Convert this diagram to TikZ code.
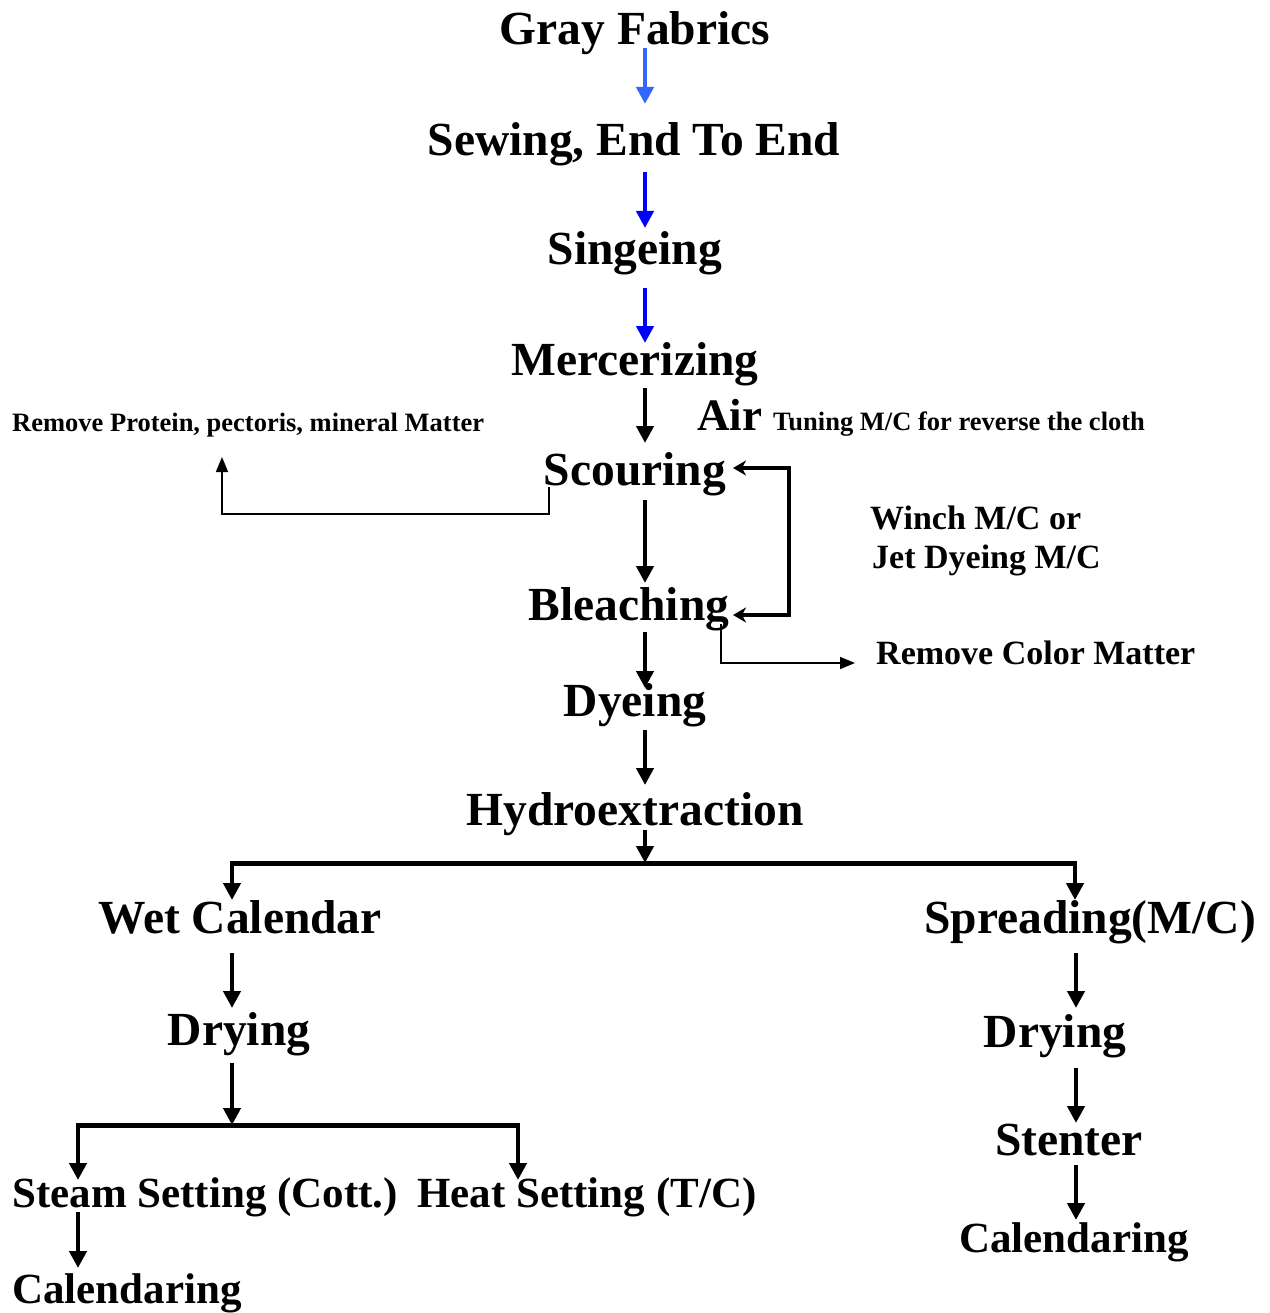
\documentclass[tikz,border=0pt]{standalone}
\usepackage{fontspec}
\setmainfont{Liberation Serif}
\usetikzlibrary{arrows.meta}
\definecolor{lightblue}{RGB}{51,102,255}
\definecolor{pureblue}{RGB}{0,0,255}
\begin{document}
\begin{tikzpicture}[x=1pt,y=-1pt,
  big/.style={font=\fontsize{47.5}{50}\selectfont\bfseries, inner sep=0pt, anchor=base},
  cal/.style={font=\fontsize{43}{46}\selectfont\bfseries, inner sep=0pt, anchor=base},
  mid/.style={font=\fontsize{34}{36}\selectfont\bfseries, inner sep=0pt, anchor=base west},
  small/.style={font=\fontsize{26.5}{28}\selectfont\bfseries, inner sep=0pt, anchor=base west},
  arr/.style={line width=4.5pt, -{Triangle[width=17pt,length=17pt]}},
  barline/.style={line width=5pt, line join=miter},
  loop/.style={line width=4.5pt, line join=miter, {Stealth[width=15pt,length=13pt,inset=4pt]}-{Stealth[width=15pt,length=13pt,inset=4pt]}},
  thinarr/.style={line width=1.6pt, line join=miter, -{Triangle[width=12pt,length=15pt]}}
]
\useasboundingbox (0,0) rectangle (1269,1313);

% main column
\node[big] (gray) at (635,45) {Gray Fabrics};
\node[big] (sew) at (634,156) {Sewing, End To End};
\node[big] (sing) at (635,265) {Singeing};
\node[big] (merc) at (635,375) {Mercerizing};
\node[big] (scour) at (635,485) {Scouring};
\node[big] (bleach) at (629,620) {Bleaching};
\node[big] (dye) at (635,716) {Dyeing};
\node[big] (hydro) at (635,825) {Hydroextraction};

% side notes
\node[font=\fontsize{45}{48}\selectfont\bfseries, inner sep=0pt, anchor=base west] (air) at (697,430) {Air};
\node[small] (tuning) at (773,430) {Tuning M/C for reverse the cloth};
\node[small] (protein) at (12,431) {Remove Protein, pectoris, mineral Matter};
\node[mid] (winch) at (870,529) {Winch M/C or};
\node[mid] (jet) at (872,568) {Jet Dyeing M/C};
\node[mid] (color) at (876,664) {Remove Color Matter};

% branches
\node[big] (wet) at (240,933) {Wet Calendar};
\node[big] (dry1) at (239,1045) {Drying};
\node[big] (spread) at (1090,933) {Spreading(M/C)};
\node[big] (dry2) at (1055,1047) {Drying};
\node[big] (stent) at (1069,1155) {Stenter};
\node[cal] (cal2) at (1074,1252) {Calendaring};
\node[cal, anchor=base west] (steam) at (12,1207) {Steam Setting (Cott.)};
\node[cal, anchor=base west] (heat) at (417,1207) {Heat Setting (T/C)};
\node[cal, anchor=base west] (cal1) at (12,1303) {Calendaring};

% connector points
\coordinate (hsplit) at (645,863);
\coordinate (lsplit) at (232,1125);

% main arrows
\draw[arr, lightblue] (645,48) -- (645,104);
\draw[arr, pureblue] (645,172) -- (645,228);
\draw[arr, pureblue] (645,288) -- (645,343);
\draw[arr] (645,388) -- (645,443);
\draw[arr] (645,500) -- (645,583);
\draw[arr] (645,632) -- (645,688);
\draw[arr] (645,730) -- (645,785);
\draw[arr] (645,830) -- (hsplit);

% loop between scouring and bleaching
\draw[loop] (733,468) -- (789,468) -- (789,615) -- (733,615);

% thin side arrows
\draw[thinarr] (549,487) -- (549,514) -- (222,514) -- (222,457);
\draw[thinarr] (721,624) -- (721,663) -- (855,663);

% split after hydroextraction
\draw[barline] (230,863) -- (1077,863);
\draw[arr] (232,861) -- (232,900);
\draw[arr] (1075,861) -- (1075,900);

% left branch
\draw[arr] (232,953) -- (232,1008);
\draw[arr] (232,1063) -- (lsplit);
\draw[barline] (76,1125) -- (520,1125);
\draw[arr] (78,1123) -- (78,1180);
\draw[arr] (518,1123) -- (518,1180);
\draw[arr] (78,1212) -- (78,1268);

% right branch
\draw[arr] (1076,953) -- (1076,1008);
\draw[arr] (1076,1068) -- (1076,1123);
\draw[arr] (1076,1165) -- (1076,1220);
\end{tikzpicture}
\end{document}
